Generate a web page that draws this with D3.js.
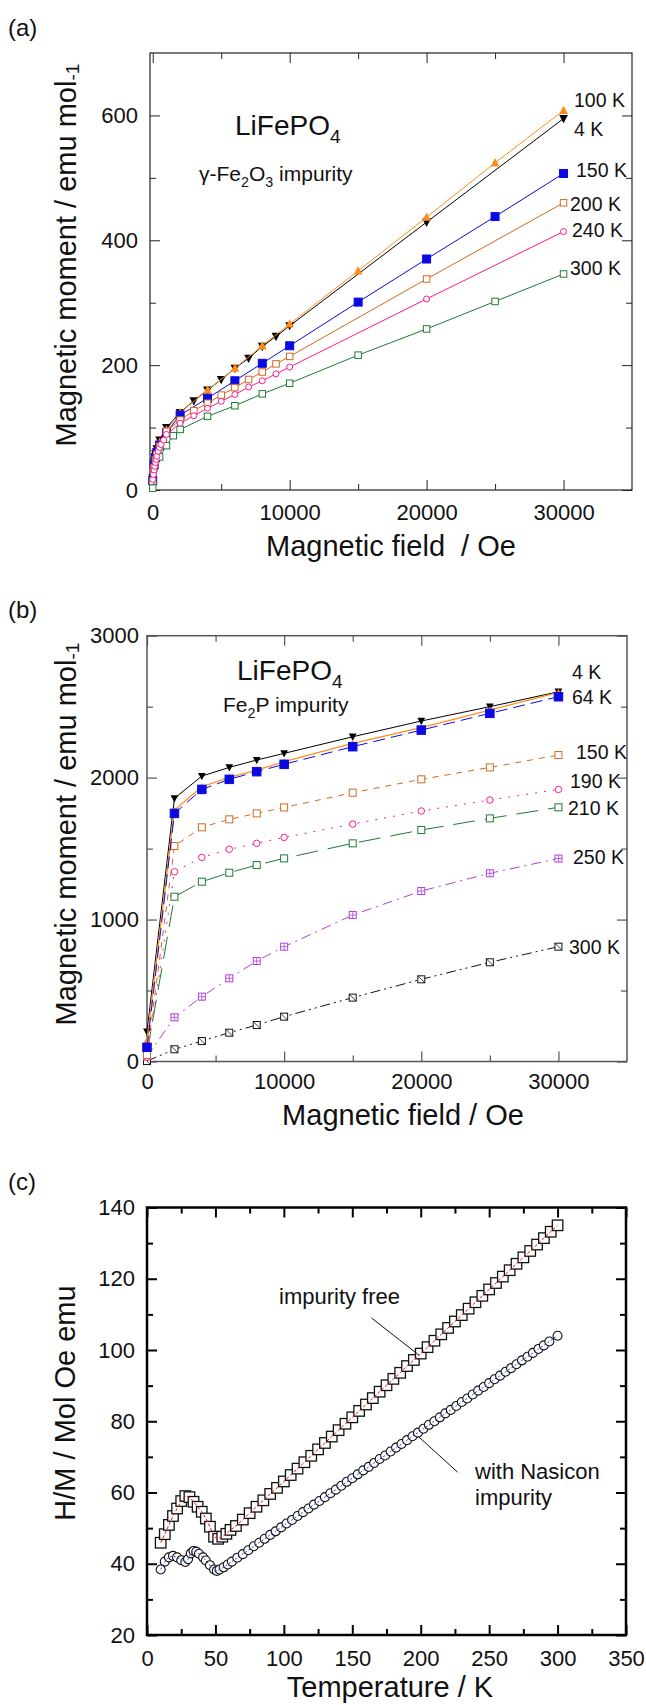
<!DOCTYPE html>
<html lang="en">
<head>
<meta charset="UTF-8">
<title>LiFePO4 magnetic data</title>
<script src="https://d3js.org/d3.v7.min.js"></script>
<style>
  body { margin: 0; background: #fff; }
  svg { display: block; font-family: "Liberation Sans", Arial, Helvetica, sans-serif; }
</style>
</head>
<body>
<script>
// ---------- (a) gamma-Fe2O3 impurity : M(H) ----------
var fieldA_4K    = [0, 100, 200, 300, 500, 1000, 2000, 3000, 4000, 5000, 6000, 7000, 8000, 9000, 10000, 20000, 30000];
var momentA_4K   = [20, 45, 58, 66, 80, 100, 124, 143, 160, 177, 195, 211, 230, 246, 263, 429, 595];
var fieldA_100K  = [0, 100, 200, 300, 500, 1000, 2000, 4000, 6000, 8000, 10000, 15000, 20000, 25000, 30000];
var momentA_100K = [18, 42, 55, 63, 76, 96, 124, 160, 195, 231, 266, 351, 437, 524, 608];
var fieldA_150K  = [0, 100, 200, 300, 500, 1000, 2000, 4000, 6000, 8000, 10000, 15000, 20000, 25000, 30000];
var momentA_150K = [15, 40, 52, 60, 72, 92, 120, 147, 175, 203, 231, 301, 370, 438, 507];
var fieldA_200K  = [0, 100, 200, 300, 500, 1000, 2000, 3000, 4000, 5000, 6000, 7000, 8000, 9000, 10000, 20000, 30000];
var momentA_200K = [14, 36, 48, 57, 70, 94, 112, 127, 139, 152, 164, 177, 189, 202, 214, 338, 460];
var fieldA_240K  = [0, 50, 100, 150, 200, 250, 300, 400, 500, 600, 800, 1000, 2000, 3000, 4000, 5000, 6000, 7000, 8000, 9000, 10000, 20000, 30000];
var momentA_240K = [17, 25, 32, 38, 44, 49, 54, 62, 68, 73, 80, 89, 107, 119, 131, 142, 153, 165, 175, 186, 197, 306, 414];
var fieldA_300K  = [0, 500, 1000, 1500, 2000, 4000, 6000, 8000, 10000, 15000, 20000, 25000, 30000];
var momentA_300K = [3, 53, 71, 87, 97, 118, 135, 154, 171, 216, 258, 302, 346];

// ---------- (b) Fe2P impurity : M(H) ----------
var fieldB       = [0, 2000, 4000, 6000, 8000, 10000, 15000, 20000, 25000, 30000];
var momentB_4K   = [210, 1854, 2011, 2072, 2124, 2171, 2288, 2399, 2500, 2605];
var momentB_or   = [151, 1772, 1936, 2002, 2053, 2112, 2242, 2352, 2476, 2601];
var momentB_64K  = [100, 1748, 1917, 1988, 2042, 2094, 2218, 2335, 2453, 2570];
var momentB_150K = [46, 1518, 1650, 1706, 1748, 1790, 1894, 1988, 2072, 2159];
var momentB_190K = [30, 1337, 1438, 1495, 1537, 1579, 1673, 1765, 1842, 1917];
var momentB_210K = [60, 1161, 1267, 1330, 1384, 1431, 1537, 1631, 1713, 1791];
var momentB_250K = [34, 311, 457, 586, 708, 809, 1032, 1201, 1326, 1430];
var momentB_300K = [3, 86, 144, 203, 257, 316, 450, 579, 699, 809];

// ---------- (c) H/M vs T ----------
var tempFree = [10, 13, 16, 19, 22, 25, 28, 31, 34, 37, 40, 43, 46, 49, 52, 55, 58, 61,
  65, 70, 75, 80, 85, 90, 95, 100, 105, 110, 115, 120, 125, 130, 135, 140, 145, 150, 155, 160,
  165, 170, 175, 180, 185, 190, 195, 200, 205, 210, 215, 220, 225, 230, 235, 240, 245, 250,
  255, 260, 265, 270, 275, 280, 285, 290, 295, 300];
var hmFree = [45.9, 48.3, 50.9, 53.4, 55.5, 57.6, 59.0, 58.7, 57.4, 56.0, 54.6, 52.7, 50.4, 47.6, 47.0, 47.6, 48.4, 49.5,
  50.6, 52.4, 54.2, 56.0, 57.8, 59.6, 61.3, 63.1, 64.9, 66.7, 68.5, 70.3, 72.1, 73.9, 75.7, 77.5, 79.3, 81.1, 82.9, 84.7,
  86.5, 88.3, 90.1, 91.9, 93.6, 95.5, 97.2, 99.0, 100.8, 102.6, 104.4, 106.2, 108.0, 109.8, 111.6, 113.4, 115.2, 117.0,
  118.8, 120.6, 122.4, 124.2, 126.0, 127.8, 129.6, 131.4, 133.2, 135.0];
var tempNas = [10, 13, 16, 19, 22, 25, 28, 30, 32, 34, 36, 38, 41, 43, 46, 49, 51, 53, 56, 59,
  62, 66, 70, 74, 78, 82, 86, 90, 94, 98, 102, 106, 110, 114, 118, 122, 126, 130, 134, 138,
  142, 146, 150, 154, 158, 162, 166, 170, 174, 178, 182, 186, 190, 194, 198, 202, 206, 210, 214, 218,
  222, 226, 230, 234, 238, 242, 246, 250, 254, 258, 262, 266, 270, 274, 278, 282, 286, 290, 294, 300];
var hmNas = [38.4, 40.6, 41.8, 42.2, 41.8, 41.0, 40.5, 41.3, 42.9, 43.6, 43.4, 42.8, 41.8, 40.9, 39.6, 38.4, 38.0, 38.4, 39.0, 39.8,
  40.6, 41.7, 42.7, 43.8, 44.9, 45.9, 47.0, 48.1, 49.1, 50.2, 51.3, 52.3, 53.4, 54.5, 55.5, 56.6, 57.6, 58.7, 59.8, 60.8,
  61.9, 63.0, 64.0, 65.1, 66.2, 67.2, 68.3, 69.4, 70.4, 71.5, 72.6, 73.6, 74.7, 75.8, 76.8, 77.9, 79.0, 80.0, 81.1, 82.2,
  83.2, 84.3, 85.4, 86.4, 87.5, 88.6, 89.6, 90.7, 91.8, 92.8, 93.9, 94.9, 96.0, 97.1, 98.1, 99.2, 100.3, 101.3, 102.4, 104.0];

// tick values
var ticksFieldMajor = [0, 10000, 20000, 30000];
var ticksFieldMinor = [5000, 15000, 25000];
var ticksMomAMajor = [0, 200, 400, 600];
var ticksMomAMinor = [100, 300, 500];
var ticksMomBMajor = [0, 1000, 2000, 3000];
var ticksMomBMinor = [500, 1500, 2500];
var ticksTempMajor = [0, 50, 100, 150, 200, 250, 300, 350];
var ticksTempMinor = [25, 75, 125, 175, 225, 275, 325];
var ticksHMMajor = [20, 40, 60, 80, 100, 120, 140];
var ticksHMMinor = [30, 50, 70, 90, 110, 130];

var W = 646, H = 1705;
var svg = d3.select("body").append("svg").attr("width", W).attr("height", H);
svg.append("rect").attr("width", W).attr("height", H).attr("fill", "#fff");

// ---- helpers ----
function axisPart(gen, tr, st) {
    var a = svg.append("g").attr("transform", tr).call(gen);
    a.select(".domain").remove();
    a.attr("font-family", null).attr("font-size", st.fs);
    a.selectAll("line").attr("stroke", st.col).attr("stroke-width", st.tw);
    a.selectAll("text").attr("fill", "#111");
    return a;
}

function frame(x, y, st) {
    var x0 = x.range()[0], x1 = x.range()[1], yb = y.range()[0], yt = y.range()[1];
    var fmt = d3.format("d");
    // bottom + left with labels
    axisPart(d3.axisBottom(x).tickValues(st.xMaj).tickSizeInner(-10).tickSizeOuter(0).tickPadding(st.xPad).tickFormat(fmt), "translate(0," + yb + ")", st);
    axisPart(d3.axisBottom(x).tickValues(st.xMin).tickSizeInner(-6).tickSizeOuter(0).tickFormat(""), "translate(0," + yb + ")", st);
    axisPart(d3.axisLeft(y).tickValues(st.yMaj).tickSizeInner(-10).tickSizeOuter(0).tickPadding(st.yPad).tickFormat(fmt), "translate(" + x0 + ",0)", st);
    axisPart(d3.axisLeft(y).tickValues(st.yMin).tickSizeInner(-6).tickSizeOuter(0).tickFormat(""), "translate(" + x0 + ",0)", st);
    // top + right, ticks only
    axisPart(d3.axisTop(x).tickValues(st.xMaj).tickSizeInner(-10).tickSizeOuter(0).tickFormat(""), "translate(0," + yt + ")", st);
    axisPart(d3.axisTop(x).tickValues(st.xMin).tickSizeInner(-6).tickSizeOuter(0).tickFormat(""), "translate(0," + yt + ")", st);
    axisPart(d3.axisRight(y).tickValues(st.yMaj).tickSizeInner(-10).tickSizeOuter(0).tickFormat(""), "translate(" + x1 + ",0)", st);
    axisPart(d3.axisRight(y).tickValues(st.yMin).tickSizeInner(-6).tickSizeOuter(0).tickFormat(""), "translate(" + x1 + ",0)", st);
    svg.append("rect").attr("x", x0).attr("y", yt).attr("width", x1 - x0).attr("height", yb - yt)
        .attr("fill", "none").attr("stroke", st.col).attr("stroke-width", st.bw);
}

function marker(m, st) {
    var s = st.size, c = st.color;
    if (st.shape === "triUp" || st.shape === "triDown") {
        m.append("path")
            .attr("d", "M0," + (-0.6 * s) + "L" + (0.55 * s) + "," + (0.45 * s) + "L" + (-0.55 * s) + "," + (0.45 * s) + "Z")
            .attr("transform", st.shape === "triDown" ? "rotate(180)" : null)
            .attr("fill", c);
    } else if (st.shape === "circle") {
        m.append("circle").attr("r", s / 2).attr("fill", "#fff").attr("stroke", c).attr("stroke-width", st.mw || 1);
    } else {
        m.append("rect").attr("x", -s / 2).attr("y", -s / 2).attr("width", s).attr("height", s)
            .attr("fill", st.shape === "squareFill" ? c : "#fff").attr("stroke", c).attr("stroke-width", st.mw || 1);
        if (st.shape === "squarePlus") {
            m.append("path").attr("d", "M0," + (-s / 2) + "V" + (s / 2) + "M" + (-s / 2) + ",0H" + (s / 2))
                .attr("stroke", c).attr("stroke-width", 0.8);
        }
        if (st.shape === "squareDiag") {
            m.append("path").attr("d", "M" + (-s / 2) + "," + (-s / 2) + "L" + (s / 2) + "," + (s / 2))
                .attr("stroke", c).attr("stroke-width", 0.8);
        }
    }
}

function series(x, y, xs, ys, st) {
    var pts = xs.map(function(d, i) { return [d, ys[i]]; });
    var line = d3.line().x(function(d) { return x(d[0]); }).y(function(d) { return y(d[1]); });
    var drawLine = function() {
        svg.append("path").datum(pts).attr("d", line)
            .attr("fill", "none").attr("stroke", st.lineColor || st.color)
            .attr("stroke-width", st.lw || 1).attr("stroke-dasharray", st.dash || null);
    };
    if (!st.lineOnTop) drawLine();
    var m = svg.append("g").selectAll("g").data(pts).enter().append("g")
        .attr("transform", function(d) { return "translate(" + x(d[0]) + "," + y(d[1]) + ")"; });
    marker(m, st);
    if (st.lineOnTop) drawLine();
}

function txt(x, y, s, fs, anchor) {
    return svg.append("text").attr("x", x).attr("y", y).attr("font-size", fs)
        .attr("text-anchor", anchor || "start").attr("fill", "#111").text(s);
}

// parts: [text, sub?]
function richTxt(x, y, parts, fs) {
    var t = svg.append("text").attr("x", x).attr("y", y).attr("font-size", fs).attr("fill", "#111");
    var shift = 0;
    parts.forEach(function(p) {
        var want = p[1] ? 0.3 * fs : 0;
        t.append("tspan").attr("dy", want - shift).attr("font-size", p[1] ? 0.68 * fs : fs).text(p[0]);
        shift = want;
    });
    return t;
}

function yLabel(cx, cy, fs) {
    var t = svg.append("text").attr("transform", "translate(" + cx + "," + cy + ") rotate(-90)")
        .attr("text-anchor", "middle").attr("font-size", fs).attr("fill", "#111");
    t.append("tspan").text("Magnetic moment / emu mol");
    t.append("tspan").attr("font-size", 0.66 * fs).attr("dy", 3).text("-1");
}

var colOrange = "#ff8c1a", colBlue = "#0a0ae0", colBrown = "#d2691e", colPink = "#ff1a8c",
    colGreen = "#1f7a35", colPurple = "#b040e0";

// ================= panel (a) =================
var xA = d3.scaleLinear().domain([-200, 35000]).range([150, 632]);
var yA = d3.scaleLinear().domain([0, 700]).range([490, 53]);
frame(xA, yA, { xMaj: ticksFieldMajor, xMin: ticksFieldMinor, yMaj: ticksMomAMajor, yMin: ticksMomAMinor,
    xPad: 14, yPad: 12, fs: 22, col: "#222", tw: 1, bw: 1.2 });

series(xA, yA, fieldA_4K, momentA_4K, { shape: "triDown", size: 8, color: "#000" });
series(xA, yA, fieldA_100K, momentA_100K, { shape: "triUp", size: 8, color: colOrange });
series(xA, yA, fieldA_150K, momentA_150K, { shape: "squareFill", size: 8, color: colBlue });
series(xA, yA, fieldA_200K, momentA_200K, { shape: "square", size: 6.5, color: colBrown });
series(xA, yA, fieldA_300K, momentA_300K, { shape: "square", size: 6.5, color: colGreen });
series(xA, yA, fieldA_240K, momentA_240K, { shape: "circle", size: 6, color: colPink });

txt(574, 107, "100 K", 19.5);
txt(574, 136, "4 K", 19.5);
txt(576, 177, "150 K", 19.5);
txt(570, 211, "200 K", 19.5);
txt(572, 237, "240 K", 19.5);
txt(570, 275, "300 K", 19.5);
richTxt(235, 135, [["LiFePO", 0], ["4", 1]], 28);
richTxt(199, 181, [["\u03B3-Fe", 0], ["2", 1], ["O", 0], ["3", 1], [" impurity", 0]], 21);

txt(8, 36, "(a)", 24);
yLabel(76, 255, 29);
txt(391, 556, "Magnetic field  / Oe", 29, "middle").style("white-space", "pre");

// ================= panel (b) =================
var xB = d3.scaleLinear().domain([0, 35000]).range([147, 627]);
var yB = d3.scaleLinear().domain([0, 3000]).range([1061.5, 635.7]);
frame(xB, yB, { xMaj: ticksFieldMajor, xMin: ticksFieldMinor, yMaj: ticksMomBMajor, yMin: ticksMomBMinor,
    xPad: 12, yPad: 8, fs: 22, col: "#555", tw: 1.2, bw: 1.5 });

series(xB, yB, fieldB, momentB_300K, { shape: "squareDiag", size: 7, color: "#111", dash: "10,4,2,4,2,4" });
series(xB, yB, fieldB, momentB_250K, { shape: "squarePlus", size: 7, color: colPurple, dash: "10,5,2,5" });
series(xB, yB, fieldB, momentB_210K, { shape: "square", size: 7, color: colGreen, dash: "22,10" });
series(xB, yB, fieldB, momentB_190K, { shape: "circle", size: 6.5, color: colPink, dash: "2,7" });
series(xB, yB, fieldB, momentB_150K, { shape: "square", size: 7, color: colBrown, dash: "6,6" });
series(xB, yB, fieldB, momentB_4K, { shape: "triDown", size: 7, color: "#000" });
series(xB, yB, fieldB, momentB_or, { shape: "triUp", size: 6, color: colOrange, lw: 1.3 });
series(xB, yB, fieldB, momentB_64K, { shape: "squareFill", size: 8.5, color: colBlue, dash: "12,6" });

txt(572, 679, "4 K", 19.5);
txt(572, 704, "64 K", 19.5);
txt(576, 759, "150 K", 19.5);
txt(570, 788, "190 K", 19.5);
txt(568, 815, "210 K", 19.5);
txt(573, 864, "250 K", 19.5);
txt(569, 954, "300 K", 19.5);
richTxt(237, 680, [["LiFePO", 0], ["4", 1]], 28);
richTxt(223, 712, [["Fe", 0], ["2", 1], ["P impurity", 0]], 21);

txt(8, 618, "(b)", 24);
yLabel(76, 834, 29);
txt(403, 1125, "Magnetic field / Oe", 29, "middle");

// ================= panel (c) =================
var xC = d3.scaleLinear().domain([0, 350]).range([147, 626]);
var yC = d3.scaleLinear().domain([20, 140]).range([1635, 1207.5]);
frame(xC, yC, { xMaj: ticksTempMajor, xMin: ticksTempMinor, yMaj: ticksHMMajor, yMin: ticksHMMinor,
    xPad: 15, yPad: 12, fs: 22, col: "#000", tw: 2, bw: 2.5 });

series(xC, yC, tempNas, hmNas, { shape: "circle", size: 9, color: "#111", mw: 1.1,
    lineColor: "#1f3fe0", dash: "2,2", lw: 1, lineOnTop: true });
series(xC, yC, tempFree, hmFree, { shape: "square", size: 10.5, color: "#111", mw: 1.3,
    lineColor: "#e01010", dash: "3,2", lw: 1, lineOnTop: true });

// leader lines for the two curves
var leaders = [[[164, 109], [198.6, 98.6]], [[198.6, 75.6], [227, 65.7]]];
leaders.forEach(function(l) {
    svg.append("line").attr("x1", xC(l[0][0])).attr("y1", yC(l[0][1]))
        .attr("x2", xC(l[1][0])).attr("y2", yC(l[1][1])).attr("stroke", "#111").attr("stroke-width", 1);
});
txt(279, 1304, "impurity free", 22);
txt(475, 1479, "with Nasicon", 22);
txt(475, 1505, "impurity", 22);

txt(8, 1190, "(c)", 24);
svg.append("text").attr("transform", "translate(75,1403) rotate(-90)")
    .attr("text-anchor", "middle").attr("font-size", 29).attr("fill", "#111").text("H/M / Mol Oe emu");
txt(390, 1697, "Temperature / K", 29, "middle");
</script>
</body>
</html>
